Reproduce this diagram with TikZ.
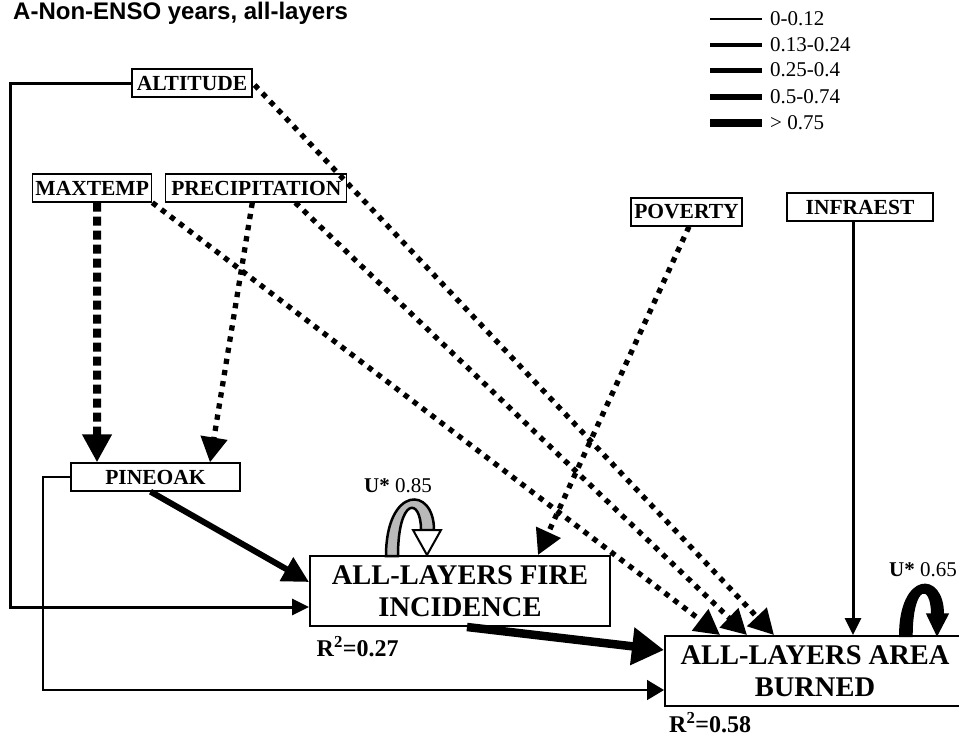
\documentclass[tikz,border=0pt]{standalone}
\usepackage{fontspec}
\setmainfont{Liberation Serif}
\newfontfamily\titlefont{Liberation Sans}
\usetikzlibrary{arrows.meta,calc}
\begin{document}
\begin{tikzpicture}[x=1pt,y=-1pt,
 var/.style={draw, line width=1.3pt, inner sep=0pt, font=\fontsize{21.5}{24}\selectfont\bfseries, minimum height=28pt},
 mainbox/.style={draw, line width=2pt, inner sep=0pt, minimum width=300pt, minimum height=70pt, align=center, font=\fontsize{28.5}{32}\selectfont\bfseries},
 thinarr/.style={line width=3pt, -{Triangle[length=17pt,width=16pt]}},
 thickarr/.style={line width=6pt, -{Triangle[length=26pt,width=26pt]}},
 vthickarr/.style={line width=8.5pt, -{Triangle[length=32pt,width=36pt]}},
 dotarr/.style={line width=5.3pt, dash pattern=on 5.3pt off 6pt, -{Triangle[length=25pt,width=26pt]}},
 dasharr/.style={line width=8pt, dash pattern=on 9pt off 5pt, -{Triangle[length=28pt,width=28pt]}},
 legtext/.style={anchor=base west, inner sep=0pt, font=\fontsize{21}{24}\selectfont},
 rtext/.style={anchor=base west, inner sep=0pt, font=\fontsize{24}{26}\selectfont\bfseries},
 utext/.style={anchor=base west, inner sep=0pt, font=\fontsize{21}{24}\selectfont},
]
\useasboundingbox (0,0) rectangle (959,740);

% title
\node[anchor=base west, inner sep=0pt, font=\titlefont\bfseries\fontsize{24}{26}\selectfont] (title) at (13,19.5) {A-Non-ENSO years, all-layers};

% legend
\foreach \yy/\ww/\tt [count=\i] in {19/2/{0-0.12}, 45/3.5/{0.13-0.24}, 70/5/{0.25-0.4}, 97/6.5/{0.5-0.74}, 123/8/{> 0.75}} {
  \draw[line width=\ww pt] (710,\yy) -- (762,\yy);
  \node[legtext] (leg\i) at (770,\yy+6) {\tt};
}

% variables
\node[var, minimum width=120pt] (alt) at (192,83) {ALTITUDE};
\node[var, minimum width=119pt] (maxt) at (92.2,188) {MAXTEMP};
\node[var, minimum width=181pt] (prec) at (256.3,188) {PRECIPITATION};
\node[var, minimum width=111pt] (pov) at (686.5,212) {POVERTY};
\node[var, minimum width=146pt] (infra) at (860,207) {INFRAEST};
\node[var, minimum width=169pt] (pine) at (155.5,477) {PINEOAK};
\node[mainbox] (fire) at (460,591) {ALL-LAYERS FIRE\\INCIDENCE};
\node[mainbox] (area) at (815,671) {ALL-LAYERS AREA\\BURNED};

% R2 labels
\node[rtext] (r1) at (316.5,656.5) {R\textsuperscript{2}=0.27};
\node[rtext] (r2) at (669,732.5) {R\textsuperscript{2}=0.58};

% U labels
\node[utext] (u1) at (364,492.5) {\textbf{U*} 0.85};
\node[utext] (u2) at (889,576.5) {\textbf{U*} 0.65};

% connectors
\coordinate (altcorner) at (10,83);
\coordinate (pinecorner) at (43,477);
\draw[thinarr] (alt.west) -- (altcorner) |- ([yshift=-16pt]fire.west);
\draw[line width=1.7pt, -{Triangle[length=17pt,width=20pt]}] (pine.west) -- (pinecorner) |- ([yshift=-19pt]area.west);
\draw[thickarr] ([xshift=-5pt]pine.south) -- ([yshift=9pt]fire.west);
\draw[vthickarr] ([xshift=7pt]fire.south) -- ([yshift=21pt]area.west);
\draw[dasharr] ([xshift=5pt]maxt.south) -- ([xshift=-58.5pt]pine.north);
\draw[dotarr] ([xshift=-4pt]prec.south) -- ([xshift=54.5pt]pine.north);
\draw[dotarr] (maxt.south east) -- ([xshift=56pt]area.north west);
\draw[dotarr] ([xshift=39pt]prec.south) -- ([xshift=83pt]area.north west);
\draw[dotarr] ([xshift=2pt,yshift=-2pt]alt.east) -- ([xshift=110pt]area.north west);
\draw[dotarr] ([xshift=2.5pt]pov.south) -- ([xshift=78pt]fire.north);
\draw[thinarr] ([xshift=-7pt]infra.south) -- ([xshift=38pt]area.north);

% U* self-loop block arcs
\draw[line width=2.5pt, fill=gray!55] (386,556) .. controls (386,485.7) and (434,485.7) .. (434,530)
  -- (421,530) .. controls (421,497) and (398,497) .. (398,556) -- cycle;
\draw[line width=2pt, fill=white, line join=miter] (413,530) -- (441,530) -- (427,555) -- cycle;
\draw[line width=2pt, fill=black] (900,636) .. controls (900,571.7) and (943,571.7) .. (943,614)
  -- (932,614) .. controls (932,582.3) and (911.7,582.3) .. (911.7,636) -- cycle;
\draw[line width=1.5pt, fill=black, line join=miter] (927,614) -- (948,614) -- (937,635) -- cycle;
\end{tikzpicture}
\end{document}
